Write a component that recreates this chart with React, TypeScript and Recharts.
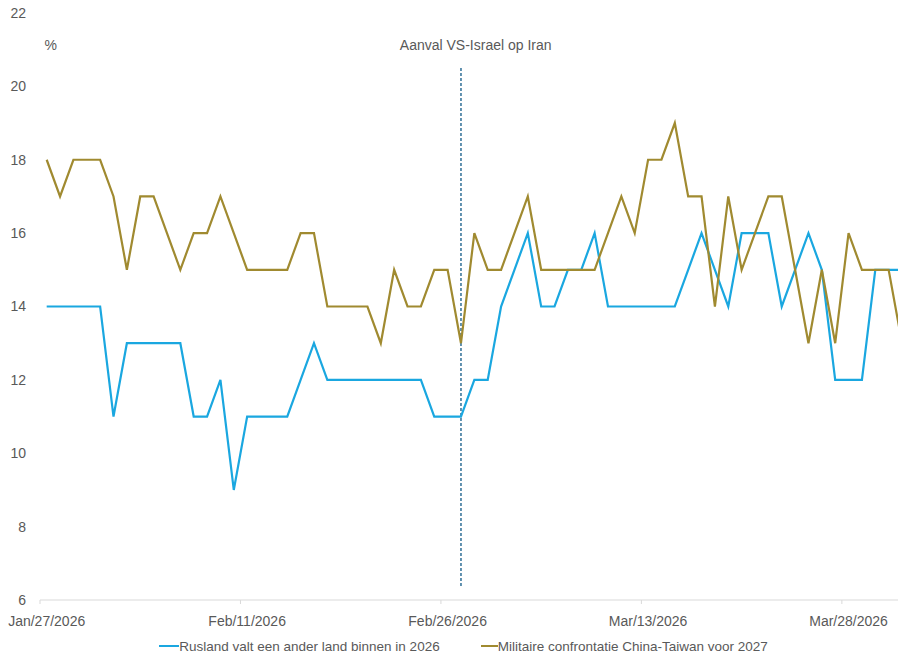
import React from 'react';
import { LineChart, Line, XAxis, YAxis, ReferenceLine, ReferenceDot, Legend } from 'recharts';

// Dagelijkse kansen (%) vanaf Jan/27/2026, index 0 = Jan/27
const rusland = [
  14, 14, 14, 14, 14, 11, 13, 13, 13, 13, 13, 11, 11, 12, 9, 11,
  11, 11, 11, 12, 13, 12, 12, 12, 12, 12, 12, 12, 12, 11, 11, 11,
  12, 12, 14, 15, 16, 14, 14, 15, 15, 16, 14, 14, 14, 14, 14, 14,
  15, 16, 15, 14, 16, 16, 16, 14, 15, 16, 15, 12, 12, 12, 15, 15, 15,
];

const chinaTaiwan = [
  18, 17, 18, 18, 18, 17, 15, 17, 17, 16, 15, 16, 16, 17, 16, 15,
  15, 15, 15, 16, 16, 14, 14, 14, 14, 13, 15, 14, 14, 15, 15, 13,
  16, 15, 15, 16, 17, 15, 15, 15, 15, 15, 16, 17, 16, 18, 18, 19,
  17, 17, 14, 17, 15, 16, 17, 17, 15, 13, 15, 13, 16, 15, 15, 15, 13,
];

const tickDays = [0, 15, 30, 45, 60];
const tickLabels = ['Jan/27/2026', 'Feb/11/2026', 'Feb/26/2026', 'Mar/13/2026', 'Mar/28/2026'];
const yTicks = [6, 8, 10, 12, 14, 16, 18, 20, 22];

const seriesNames = ['Rusland valt een ander land binnen in 2026', 'Militaire confrontatie China-Taiwan voor 2027'];
const annotation = 'Aanval VS-Israel op Iran';
const attackDay = 31; // Feb/27/2026

const data = rusland.map((v, i) => ({ day: i, rusland: v, china: chinaTaiwan[i] }));

const BLUE = '#1aa7e0';
const GOLD = '#a08a30';
const TEXT = '#595959';
const FONT = "'Liberation Sans', Arial, sans-serif";
const FS = 14;

const WIDTH = 898;
const HEIGHT = 653;
const Y_AXIS_W = 40;
const X_DOMAIN: [number, number] = [-0.5, 63.7];
const halfDay = (WIDTH - Y_AXIS_W) / (X_DOMAIN[1] - X_DOMAIN[0]) / 2;

const DateTick = (props: any) => {
  const { x, y, payload } = props;
  const idx = tickDays.indexOf(payload.value);
  const axisY = y - 8;
  return (
    <g>
      <line x1={x - halfDay} x2={x - halfDay} y1={axisY} y2={axisY + 4} stroke="#d9d9d9" />
      <text x={x} y={axisY + 26} textAnchor="middle" fill={TEXT} fontSize={FS} fontFamily={FONT}>
        {idx >= 0 ? tickLabels[idx] : ''}
      </text>
    </g>
  );
};

const LegendContent = () => (
  <div
    style={{
      height: 23,
      boxSizing: 'border-box',
      paddingTop: 9,
      paddingLeft: 29,
      display: 'flex',
      justifyContent: 'center',
      alignItems: 'center',
      fontFamily: FONT,
      fontSize: 13.5,
      color: TEXT,
      whiteSpace: 'nowrap',
    }}
  >
    <div style={{ display: 'flex', alignItems: 'center' }}>
      <div style={{ width: 20, height: 2, background: BLUE }} />
      <span>{seriesNames[0]}</span>
    </div>
    <div style={{ display: 'flex', alignItems: 'center', marginLeft: 41 }}>
      <div style={{ width: 17, height: 2, background: GOLD }} />
      <span>{seriesNames[1]}</span>
    </div>
  </div>
);

export default function App() {
  return (
    <div style={{ position: 'absolute', left: 0, top: 0, width: WIDTH, height: HEIGHT, background: '#fff' }}>
      <LineChart width={WIDTH} height={HEIGHT} data={data} margin={{ top: 13, right: 0, bottom: 0, left: 0 }}>
        <XAxis
          dataKey="day"
          type="number"
          domain={X_DOMAIN}
          allowDataOverflow
          ticks={tickDays}
          interval={0}
          tick={<DateTick />}
          tickLine={false}
          axisLine={{ stroke: '#d9d9d9' }}
          height={30}
        />
        <YAxis
          domain={[6, 22]}
          ticks={yTicks}
          width={Y_AXIS_W}
          axisLine={false}
          tickLine={false}
          tickMargin={8}
          tick={{ fill: TEXT, fontSize: FS, fontFamily: FONT }}
          interval={0}
        />
        <Legend verticalAlign="bottom" content={<LegendContent />} />
        <ReferenceLine
          segment={[{ x: attackDay, y: 20.5 }, { x: attackDay, y: 6.33 }]}
          stroke="#2f6f96"
          strokeWidth={1.5}
          strokeDasharray="3 2"
        />
        <ReferenceDot
          x={32.1}
          y={21.12}
          r={0}
          fill="none"
          stroke="none"
          label={{ value: annotation, position: 'center', fill: TEXT, fontSize: FS, fontFamily: FONT }}
        />
        <ReferenceDot
          x={0.3}
          y={21.12}
          r={0}
          fill="none"
          stroke="none"
          label={{ value: '%', position: 'center', fill: TEXT, fontSize: FS, fontFamily: FONT }}
        />
        <Line
          type="linear"
          dataKey="rusland"
          name={seriesNames[0]}
          stroke={BLUE}
          strokeWidth={2.2}
          dot={false}
          isAnimationActive={false}
        />
        <Line
          type="linear"
          dataKey="china"
          name={seriesNames[1]}
          stroke={GOLD}
          strokeWidth={2.2}
          dot={false}
          isAnimationActive={false}
        />
      </LineChart>
    </div>
  );
}
